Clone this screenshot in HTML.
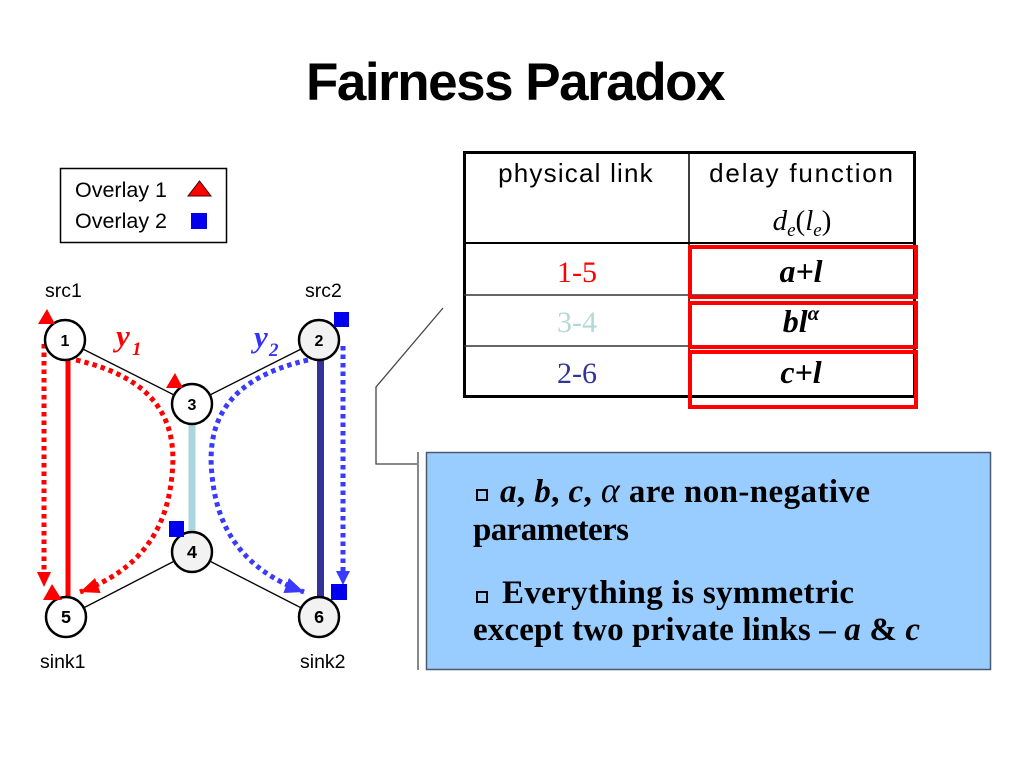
<!DOCTYPE html>
<html>
<head>
<meta charset="utf-8">
<style>
html,body{margin:0;padding:0;background:#fff;}
svg{display:block;}
</style>
</head>
<body>
<svg width="1024" height="768" viewBox="0 0 1024 768" xmlns="http://www.w3.org/2000/svg">
<defs>
<marker id="ar" markerUnits="userSpaceOnUse" markerWidth="20" markerHeight="16" refX="19" refY="8" orient="auto">
<path d="M0,0 L19,8 L0,16 z" fill="#ff0000"/>
</marker>
<marker id="ab" markerUnits="userSpaceOnUse" markerWidth="20" markerHeight="16" refX="19" refY="8" orient="auto">
<path d="M0,0 L19,8 L0,16 z" fill="#3a3aff"/>
</marker>
</defs>

<!-- Title -->
<text x="515" y="100" text-anchor="middle" font-family="Liberation Sans, sans-serif" font-weight="bold" font-size="53" letter-spacing="-1.5" fill="#000">Fairness Paradox</text>

<!-- Legend -->
<rect x="60.5" y="168.5" width="166" height="74" fill="#fff" stroke="#000" stroke-width="1.5"/>
<text x="75" y="197" font-family="Liberation Sans, sans-serif" font-size="21.5" fill="#000">Overlay 1</text>
<text x="75" y="228" font-family="Liberation Sans, sans-serif" font-size="21.5" fill="#000">Overlay 2</text>
<polygon points="199.5,181 188,196 211,196" fill="#ff0000" stroke="#400" stroke-width="1"/>
<rect x="191" y="213" width="16" height="16" fill="#0000ee"/>

<!-- src/sink labels -->
<text x="45" y="297" font-family="Liberation Sans, sans-serif" font-size="19.5" fill="#000">src1</text>
<text x="305" y="297" font-family="Liberation Sans, sans-serif" font-size="19.5" fill="#000">src2</text>
<text x="40" y="668" font-family="Liberation Sans, sans-serif" font-size="19.5" fill="#000">sink1</text>
<text x="300" y="668" font-family="Liberation Sans, sans-serif" font-size="19.5" fill="#000">sink2</text>

<!-- thin links -->
<g stroke="#000" stroke-width="1.3">
<line x1="65" y1="340" x2="192" y2="404"/>
<line x1="192" y1="404" x2="319" y2="340"/>
<line x1="192" y1="552" x2="66" y2="617"/>
<line x1="192" y1="552" x2="319" y2="617"/>
</g>

<!-- physical links -->
<line x1="192" y1="424" x2="192" y2="533" stroke="#a9d6da" stroke-width="7"/>
<line x1="68" y1="360" x2="68" y2="597" stroke="#ff0000" stroke-width="5"/>
<line x1="320.5" y1="360" x2="320.5" y2="597" stroke="#333399" stroke-width="7"/>

<!-- dotted flows -->
<line x1="44" y1="344" x2="44" y2="574" stroke="#ff0000" stroke-width="5" stroke-dasharray="4.5 4"/>
<polygon points="37,572 51,572 44,587" fill="#ff0000"/>
<line x1="343" y1="346" x2="343" y2="572" stroke="#3a3aff" stroke-width="5" stroke-dasharray="4.5 4"/>
<polygon points="336,571 350,571 343,585" fill="#3a3aff"/>

<path d="M 76 360 C 155 378, 178 420, 172 475 C 167 530, 140 570, 80 592" fill="none" stroke="#ff0000" stroke-width="5" stroke-dasharray="4.5 4" marker-end="url(#ar)"/>
<path d="M 308 360 C 229 378, 206 420, 212 475 C 217 530, 244 570, 304 592" fill="none" stroke="#3a3aff" stroke-width="5" stroke-dasharray="4.5 4" marker-end="url(#ab)"/>

<!-- nodes -->
<g stroke="#000" stroke-width="2.5">
<circle cx="65" cy="340" r="20" fill="#fff"/>
<circle cx="319" cy="340" r="20" fill="#f2f2f2"/>
<circle cx="192" cy="404" r="20" fill="#fff"/>
<circle cx="192" cy="552" r="20" fill="#f2f2f2"/>
<circle cx="66" cy="617" r="20" fill="#fff"/>
<circle cx="319" cy="617" r="20" fill="#f2f2f2"/>
</g>
<g font-size="16" font-weight="bold" text-anchor="middle" fill="#000">
<text x="65" y="346" font-family="Liberation Sans, sans-serif">1</text>
<text x="319" y="346" font-family="Liberation Sans, sans-serif">2</text>
<text x="192" y="410" font-family="Liberation Sans, sans-serif">3</text>
<text x="192" y="558" font-family="Liberation Mono, monospace" font-size="18">4</text>
<text x="66" y="623" font-family="Liberation Mono, monospace" font-size="18">5</text>
<text x="319" y="623" font-family="Liberation Mono, monospace" font-size="18">6</text>
</g>

<!-- overlay markers -->
<polygon points="47,309 38,324 55,324" fill="#ff0000"/>
<polygon points="175,373 166,388 183,388" fill="#ff0000"/>
<polygon points="52,584 43,600 62,600" fill="#ff0000"/>
<rect x="334" y="312" width="15" height="15" fill="#0000ee"/>
<rect x="169" y="521" width="15" height="16" fill="#0000ee"/>
<rect x="331" y="584" width="16" height="16" fill="#0000ee"/>

<!-- y labels -->
<text x="116" y="346" font-family="Liberation Serif, serif" font-style="italic" font-weight="bold" font-size="31" fill="#ff0000">y</text>
<text x="132" y="355" font-family="Liberation Serif, serif" font-style="italic" font-weight="bold" font-size="19" fill="#ff0000">1</text>
<text x="254" y="347" font-family="Liberation Serif, serif" font-style="italic" font-weight="bold" font-size="31" fill="#3333ff">y</text>
<text x="269" y="356" font-family="Liberation Serif, serif" font-style="italic" font-weight="bold" font-size="19" fill="#3333ff">2</text>

<!-- Table -->
<rect x="464.5" y="152.5" width="450" height="244" fill="#fff" stroke="#000" stroke-width="3"/>
<line x1="689" y1="152" x2="689" y2="396" stroke="#000" stroke-width="1.5"/>
<line x1="464" y1="243" x2="914" y2="243" stroke="#000" stroke-width="2"/>
<line x1="464" y1="295" x2="914" y2="295" stroke="#333" stroke-width="1.5"/>
<line x1="464" y1="346" x2="914" y2="346" stroke="#333" stroke-width="1.5"/>

<text x="576" y="182" text-anchor="middle" font-family="Liberation Sans, sans-serif" font-size="26" letter-spacing="1.2" fill="#000">physical link</text>
<text x="802" y="182" text-anchor="middle" font-family="Liberation Sans, sans-serif" font-size="26" letter-spacing="1.8" fill="#000">delay function</text>
<text x="802" y="230" text-anchor="middle" font-family="Liberation Serif, serif" font-size="29" fill="#000"><tspan font-style="italic">d</tspan><tspan font-style="italic" font-size="19" dy="6">e</tspan><tspan dy="-6">(</tspan><tspan font-style="italic">l</tspan><tspan font-style="italic" font-size="19" dy="6">e</tspan><tspan dy="-6">)</tspan></text>

<text x="577" y="282" text-anchor="middle" font-family="Liberation Serif, serif" font-size="30" fill="#ff0000">1-5</text>
<text x="577" y="332" text-anchor="middle" font-family="Liberation Serif, serif" font-size="30" fill="#b4d8da">3-4</text>
<text x="577" y="383" text-anchor="middle" font-family="Liberation Serif, serif" font-size="30" fill="#333399">2-6</text>

<text x="801" y="282" text-anchor="middle" font-family="Liberation Serif, serif" font-style="italic" font-weight="bold" font-size="32" fill="#000">a+l</text>
<text x="801" y="332" text-anchor="middle" font-family="Liberation Serif, serif" font-style="italic" font-weight="bold" font-size="32" fill="#000">bl<tspan font-size="21" dy="-12">α</tspan></text>
<text x="801" y="383" text-anchor="middle" font-family="Liberation Serif, serif" font-style="italic" font-weight="bold" font-size="32" fill="#000">c+l</text>

<!-- red highlight boxes -->
<g fill="none" stroke="#ff0000" stroke-width="4">
<rect x="690" y="247" width="226" height="50"/>
<rect x="690" y="303" width="226" height="44"/>
<rect x="690" y="352" width="226" height="55"/>
</g>

<!-- callout -->
<polyline points="443,308 376,387 376,464 419,464" fill="none" stroke="#444" stroke-width="1.3"/>
<line x1="418" y1="452" x2="418" y2="670" stroke="#888" stroke-width="2"/>

<!-- blue box -->
<rect x="426.5" y="452.5" width="564" height="217" fill="#99ccff" stroke="#4a5a70" stroke-width="1.5"/>
<rect x="477" y="490" width="10" height="10" fill="none" stroke="#000" stroke-width="2"/>
<rect x="477" y="592" width="10" height="10" fill="none" stroke="#000" stroke-width="2"/>
<g font-family="Liberation Serif, serif" font-weight="bold" font-size="33" fill="#000">
<text x="500" y="502" textLength="370" lengthAdjust="spacing"><tspan font-style="italic">a</tspan>, <tspan font-style="italic">b</tspan>, <tspan font-style="italic">c</tspan>, <tspan font-style="italic" font-weight="normal" font-size="36">α</tspan> are non-negative</text>
<text x="473" y="540" textLength="156" lengthAdjust="spacing">parameters</text>
<text x="502" y="603" textLength="352" lengthAdjust="spacing">Everything is symmetric</text>
<text x="473" y="640" textLength="447" lengthAdjust="spacing">except two private links – <tspan font-style="italic">a</tspan> &amp; <tspan font-style="italic">c</tspan></text>
</g>
</svg>
</body>
</html>
